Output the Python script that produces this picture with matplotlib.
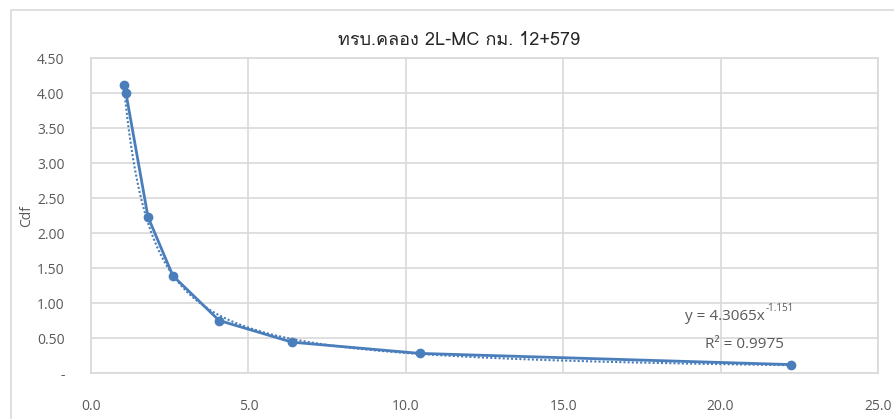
import numpy as np
import matplotlib
matplotlib.use("Agg")
import matplotlib.pyplot as plt
from matplotlib import font_manager
from matplotlib.ft2font import FT2Font
from matplotlib.patches import Rectangle

x_vals = [1.05, 1.11, 1.81, 2.60, 4.07, 6.39, 10.45, 22.24]
cdf_vals = [4.12, 4.00, 2.23, 1.39, 0.75, 0.44, 0.28, 0.12]
x_ticks = [0.0, 5.0, 10.0, 15.0, 20.0, 25.0]
y_ticks = [0.0, 0.5, 1.0, 1.5, 2.0, 2.5, 3.0, 3.5, 4.0, 4.5]
title = "ทรบ.คลอง 2L-MC กม. 12+579"
eq_base = "y = 4.3065x"
eq_exp = "-1.151"
r2_text = "R² = 0.9975"


def find_thai_font():
    # pick any installed family that has Thai glyphs
    for f in font_manager.fontManager.ttflist:
        try:
            cmap = FT2Font(f.fname).get_charmap()
        except Exception:
            continue
        if 0x0E17 in cmap and 0x0E23 in cmap:
            return f.name
    return "DejaVu Sans"


thai_font = find_thai_font()
base_font = ["Open Sans", "DejaVu Sans"]
grey = "#595959"
blue = "#4a7ebb"

fig = plt.figure(figsize=(8.94, 4.19), dpi=100)
W, H = 894, 419
ax = fig.add_axes([91 / W, 1 - 373 / H, (878 - 91) / W, (373 - 58) / H])

# chart frame
fig.patches.append(Rectangle((11 / W, -0.1), 1.2, 1 - 10 / H + 0.1,
                             transform=fig.transFigure, fill=False,
                             edgecolor="#d9d9d9", lw=1.2))

ax.plot(x_vals, cdf_vals, color=blue, lw=2, marker="o", ms=6, zorder=3)

# power trendline fitted in log space
b, log_a = np.polyfit(np.log(x_vals), np.log(cdf_vals), 1)
xt = np.linspace(min(x_vals), max(x_vals), 300)
ax.plot(xt, np.exp(log_a) * xt ** b, color=blue, lw=1.5, ls=(0, (1, 1)), zorder=2)

ax.set_xlim(0, 25)
ax.set_ylim(0, 4.5)
ax.set_xticks(x_ticks)
ax.set_xticklabels(["%.1f" % v for v in x_ticks])
ax.set_yticks(y_ticks)
ax.set_yticklabels(["-" if v == 0 else "%.2f" % v for v in y_ticks])
ax.grid(True, color="#d9d9d9", lw=1.2)
ax.set_axisbelow(True)
for s in ax.spines.values():
    s.set_color("#d9d9d9")
    s.set_linewidth(1.2)
ax.tick_params(length=0, colors=grey, labelsize=10)
ax.tick_params(axis="y", pad=19)
ax.tick_params(axis="x", pad=19)
for lab in ax.get_xticklabels() + ax.get_yticklabels():
    lab.set_family(base_font)

ax.set_ylabel("Cdf", color=grey, fontsize=10, family=base_font)
ax.yaxis.set_label_coords(-0.072, 0.5)
fig.text(459 / W, 1 - 40 / H, title, ha="center", va="center", fontsize=13,
         color="#262626", family=[thai_font, "DejaVu Sans"])

# trendline label
t = ax.text(21.4, 0.81, eq_base, ha="right", va="center", color=grey,
            fontsize=11, family=base_font)
ax.annotate(eq_exp, xy=(1, 1), xycoords=t, xytext=(0.5, -4),
            textcoords="offset points", ha="left", va="bottom", color=grey,
            fontsize=7, family=base_font)
ax.text(20.75, 0.41, r2_text, ha="center", va="center", color=grey, fontsize=11,
        family=base_font)

fig.savefig("out.png", dpi=100)
